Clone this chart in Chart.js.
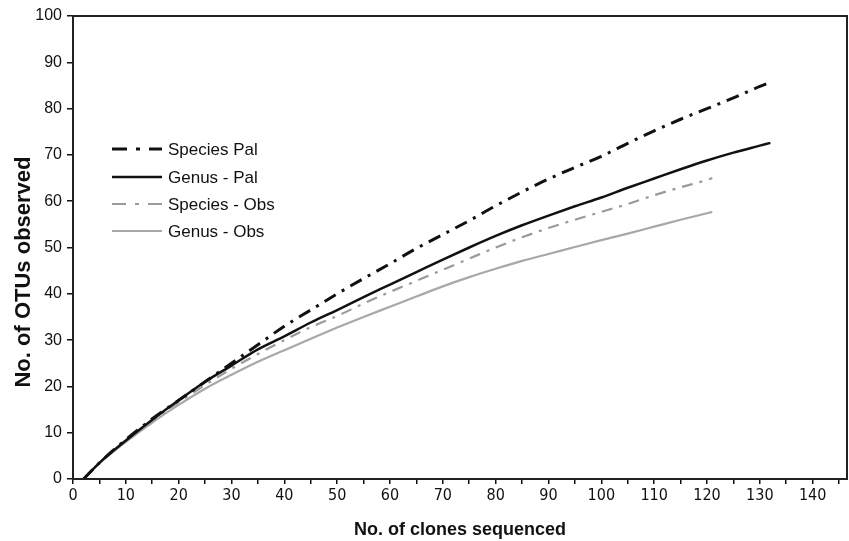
<!DOCTYPE html>
<html>
<head>
<meta charset="utf-8">
<script src="https://cdn.jsdelivr.net/npm/chart.js@4.4.0/dist/chart.umd.min.js"></script>
<style>
html,body{margin:0;padding:0;background:#fff;}
#wrap{width:849px;height:541px;position:relative;}
</style>
</head>
<body>
<div id="wrap"><canvas id="c" width="849" height="541"></canvas></div>
<script>
// ---- data ----
const seriesNames = ["Species Pal", "Genus - Pal", "Species - Obs", "Genus - Obs"];

const palX = [2, 5, 10, 15, 20, 25, 30, 35, 40, 45, 50, 55, 60, 65, 70, 75, 80, 85, 90, 95, 100, 105, 110, 115, 120, 125, 130, 132];
const speciesPal = [0, 3.5, 8.5, 13, 17, 21, 25, 29, 33, 36.5, 40, 43.3, 46.5, 49.8, 52.8, 55.8, 59, 62, 64.8, 67.3, 69.7, 72.5, 75.2, 77.7, 80, 82.3, 84.8, 85.7];
const genusPal   = [0, 3.5, 8.3, 12.8, 17, 21, 24.5, 28, 30.8, 33.8, 36.5, 39.3, 42, 44.7, 47.4, 50, 52.5, 54.8, 56.9, 58.9, 60.8, 62.9, 64.9, 66.9, 68.8, 70.5, 72, 72.6];

const obsX = [2, 5, 10, 15, 20, 25, 30, 35, 40, 45, 50, 55, 60, 65, 70, 75, 80, 85, 90, 95, 100, 105, 110, 115, 120, 121];
const speciesObs = [0, 3.5, 8.2, 12.6, 16.6, 20.3, 23.8, 27, 30, 32.8, 35.2, 37.9, 40.4, 42.8, 45.2, 47.6, 50, 52.2, 54.2, 56, 57.7, 59.4, 61.3, 63, 64.6, 65];
const genusObs   = [0, 3.4, 8, 12.2, 16, 19.5, 22.5, 25.3, 27.8, 30.3, 32.7, 35, 37.2, 39.4, 41.6, 43.6, 45.4, 47.1, 48.6, 50.1, 51.6, 53, 54.5, 56, 57.4, 57.7];

const xTickStep = 5;
const yTickStep = 10;

const pts = (xs, ys) => xs.map((x, i) => ({x: x, y: ys[i]}));

const styles = [
  {color: '#111', width: 3, dash: [13, 7, 3, 7]},
  {color: '#111', width: 2.5, dash: []},
  {color: '#9a9a9a', width: 2.2, dash: [11, 7, 3, 7]},
  {color: '#a8a8a8', width: 2.2, dash: []}
];
const seriesData = [pts(palX, speciesPal), pts(palX, genusPal), pts(obsX, speciesObs), pts(obsX, genusObs)];

const datasets = seriesNames.map((n, i) => ({
  label: n,
  data: seriesData[i],
  borderColor: styles[i].color,
  borderWidth: styles[i].width,
  borderDash: styles[i].dash,
  pointRadius: 0,
  fill: false,
  cubicInterpolationMode: 'monotone'
}));

const framePlugin = {
  id: 'frame',
  afterDatasetsDraw(chart) {
    const a = chart.chartArea, ctx = chart.ctx;
    ctx.save();
    ctx.strokeStyle = '#222';
    ctx.lineWidth = 2;
    ctx.strokeRect(a.left, a.top, a.right - a.left, a.bottom - a.top);
    ctx.restore();
  }
};

const yTitlePlugin = {
  id: 'yTitle',
  afterDraw(chart) {
    const ctx = chart.ctx;
    ctx.save();
    ctx.translate(24, 272);
    ctx.rotate(-Math.PI / 2);
    ctx.font = 'bold 22px "Liberation Sans", Arial, sans-serif';
    ctx.fillStyle = '#111';
    ctx.textAlign = 'center';
    ctx.textBaseline = 'middle';
    ctx.fillText('No. of OTUs observed', 0, 0);
    ctx.restore();
  }
};

const legendPlugin = {
  id: 'insideLegend',
  afterDraw(chart) {
    const ctx = chart.ctx;
    const rows = [149, 177, 204, 231];
    ctx.save();
    ctx.font = '17px "Liberation Sans", Arial, sans-serif';
    ctx.textBaseline = 'middle';
    ctx.fillStyle = '#111';
    chart.data.datasets.forEach((ds, i) => {
      const y = rows[i];
      ctx.beginPath();
      ctx.strokeStyle = ds.borderColor;
      ctx.lineWidth = ds.borderWidth;
      ctx.setLineDash(i === 0 ? [15, 9, 4, 9] : (i === 2 ? [14, 9, 4, 9] : []));
      ctx.moveTo(112, y);
      ctx.lineTo(162, y);
      ctx.stroke();
      ctx.setLineDash([]);
      ctx.fillText(ds.label, 168, y + 1);
    });
    ctx.restore();
  }
};

new Chart(document.getElementById('c'), {
  type: 'line',
  data: {datasets: datasets},
  options: {
    responsive: false,
    animation: false,
    events: [],
    layout: {padding: {top: 16, right: 2, left: 0, bottom: 0}},
    plugins: {legend: {display: false}, tooltip: {enabled: false}},
    scales: {
      x: {
        type: 'linear',
        min: 0,
        max: 146.5,
        afterFit(s) { s.height = 62; },
        border: {display: true, color: '#111', width: 2},
        grid: {display: true, drawOnChartArea: false, drawTicks: true, tickLength: 5, color: '#111', lineWidth: 1.5},
        ticks: {
          stepSize: xTickStep,
          includeBounds: false,
          autoSkip: false,
          maxRotation: 0,
          padding: 2,
          color: '#111',
          font: {family: '"Liberation Sans Narrow", "Arial Narrow", "DejaVu Sans Condensed", sans-serif', size: 16},
          callback: (v) => (v % 10 === 0 ? String(v) : '')
        },
        title: {
          display: true,
          text: 'No. of clones sequenced',
          color: '#111',
          font: {family: '"Liberation Sans", Arial, sans-serif', size: 18, weight: 'bold'},
          padding: {top: 0, bottom: 0}
        }
      },
      y: {
        min: 0,
        max: 100,
        afterFit(s) { s.width = 73; },
        border: {display: true, color: '#111', width: 2},
        grid: {display: true, drawOnChartArea: false, drawTicks: true, tickLength: 6, color: '#111', lineWidth: 1.5},
        ticks: {
          stepSize: yTickStep,
          padding: 5,
          color: '#111',
          font: {family: '"Liberation Sans", Arial, sans-serif', size: 16}
        },
        title: {display: false}
      }
    }
  },
  plugins: [framePlugin, legendPlugin, yTitlePlugin]
});
</script>
</body>
</html>
